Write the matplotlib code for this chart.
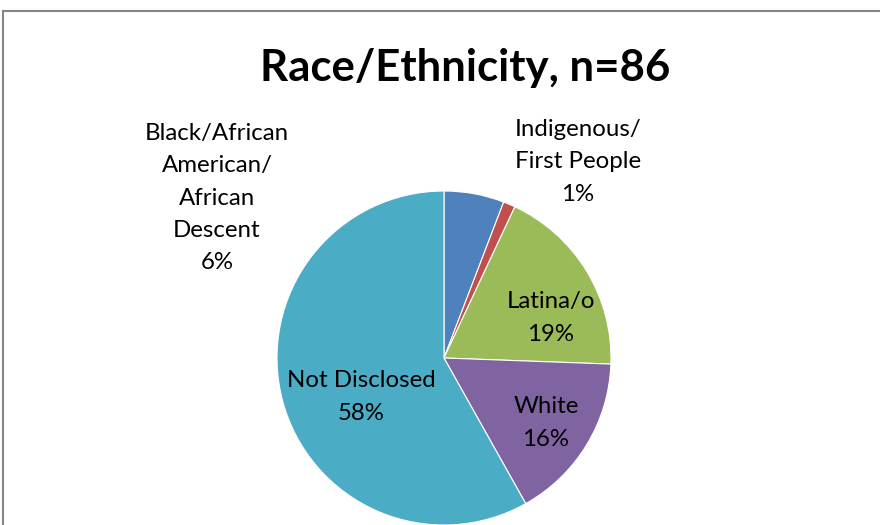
import matplotlib
matplotlib.use("Agg")
import matplotlib.pyplot as plt
from matplotlib.lines import Line2D

categories = ["Black/African\nAmerican/\nAfrican\nDescent", "Indigenous/\nFirst People", "Latina/o", "White", "Not Disclosed"]
counts = [5, 1, 16, 14, 50]
colors = ["#4F81BD", "#C0504D", "#9BBB59", "#8064A2", "#4BACC6"]
title = "Race/Ethnicity, n=86"

# label positions in pixel coordinates (layout)
label_px = [(217, 198), (578, 162), (551, 318), (546, 423), (361, 397)]

W, H = 880, 525
fig = plt.figure(figsize=(W / 100, H / 100), dpi=100)
fig.patch.set_facecolor("white")

cx, cy, r = 444, 358, 167
ax = fig.add_axes([(cx - r) / W, (H - cy - r) / H, 2 * r / W, 2 * r / H])
ax.set_axis_off()
ax.pie(counts, colors=colors, startangle=90, counterclock=False,
       wedgeprops=dict(edgecolor="white", linewidth=0.8), radius=1)
ax.set_xlim(-1, 1)
ax.set_ylim(-1, 1)
ax.set_aspect("equal")
for p in ax.patches:
    p.set_clip_on(False)

family = ["Lato", "DejaVu Sans"]
total = sum(counts)
for cat, c, (px, py) in zip(categories, counts, label_px):
    pct = round(100 * c / total)
    fig.text(px / W, 1 - py / H, f"{cat}\n{pct}%", ha="center", va="center",
             fontsize=17.3, family=family, linespacing=1.67, color="black")

fig.text(465 / W, 1 - 68 / H, title, ha="center", va="center", fontsize=31.5,
         fontweight="bold", family=family, color="black")

# chart frame
fig.add_artist(Line2D([2.5 / W, 2.5 / W], [0, 1 - 10.5 / H], transform=fig.transFigure,
                      color="#878787", lw=1.5))
fig.add_artist(Line2D([2.5 / W, 1], [1 - 10.5 / H, 1 - 10.5 / H], transform=fig.transFigure,
                      color="#878787", lw=1.5))

fig.savefig("out.png", dpi=100, facecolor="white")
